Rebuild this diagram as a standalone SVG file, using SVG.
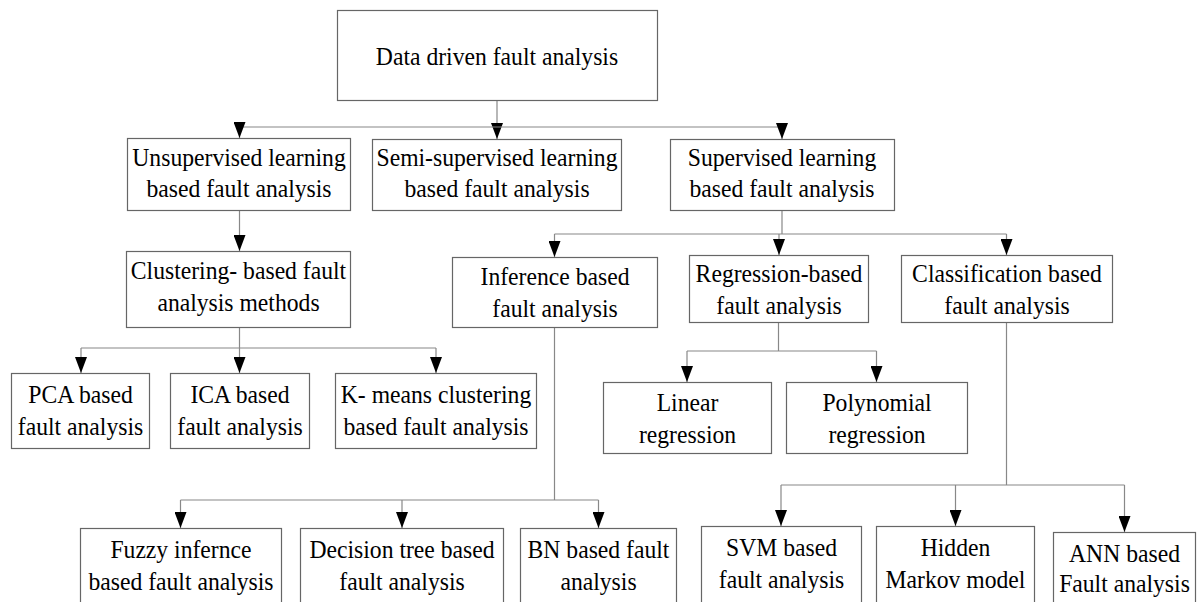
<svg xmlns="http://www.w3.org/2000/svg" width="1199" height="602" viewBox="0 0 1199 602">
<style>
.box{fill:#fff;stroke:#666;stroke-width:1.2}
.t{font-family:"Liberation Serif","Times New Roman",serif;font-size:26px;fill:#000;text-anchor:middle;transform-box:fill-box;transform-origin:center;transform:scaleX(0.91)}
.c{fill:none;stroke:#888;stroke-width:1.2}
</style>
<defs>
<marker id="ah" viewBox="0 0 16 12" refX="16" refY="6" markerWidth="16" markerHeight="12" markerUnits="userSpaceOnUse" orient="auto">
<path d="M0,0 L16,6 L0,12 z" fill="#000"/>
</marker>
</defs>
<rect width="1199" height="602" fill="#fff"/>
<g id="connectors">
<path class="c" d="M497,101 V139" marker-end="url(#ah)"/>
<path class="c" d="M239.5,127 H782"/>
<path class="c" d="M239.5,127 V138" marker-end="url(#ah)"/>
<path class="c" d="M782,127 V139" marker-end="url(#ah)"/>
<path class="c" d="M239.5,211 V251" marker-end="url(#ah)"/>
<path class="c" d="M239.5,327 V373" marker-end="url(#ah)"/>
<path class="c" d="M81,348 H436"/>
<path class="c" d="M81,348 V373" marker-end="url(#ah)"/>
<path class="c" d="M436,348 V373" marker-end="url(#ah)"/>
<path class="c" d="M782,210 V234"/>
<path class="c" d="M554.5,234 H1006.5"/>
<path class="c" d="M554.5,234 V257" marker-end="url(#ah)"/>
<path class="c" d="M779,234 V255" marker-end="url(#ah)"/>
<path class="c" d="M1006.5,234 V255" marker-end="url(#ah)"/>
<path class="c" d="M778.5,322 V351"/>
<path class="c" d="M687,351 H876.5"/>
<path class="c" d="M687,351 V382" marker-end="url(#ah)"/>
<path class="c" d="M876.5,351 V382" marker-end="url(#ah)"/>
<path class="c" d="M554.5,328 V500"/>
<path class="c" d="M180.5,500 H598.5"/>
<path class="c" d="M180.5,500 V528" marker-end="url(#ah)"/>
<path class="c" d="M402,500 V528" marker-end="url(#ah)"/>
<path class="c" d="M598.5,500 V528" marker-end="url(#ah)"/>
<path class="c" d="M1006.5,322 V485"/>
<path class="c" d="M781,485 H1124.5"/>
<path class="c" d="M781,485 V526" marker-end="url(#ah)"/>
<path class="c" d="M955.5,485 V526" marker-end="url(#ah)"/>
<path class="c" d="M1124.5,485 V532" marker-end="url(#ah)"/>
</g>
<g id="root"><rect class="box" x="337.5" y="10.5" width="320" height="90"/><text class="t" x="497" y="65">Data driven fault analysis</text></g>
<g id="unsupervised"><rect class="box" x="127.5" y="138.5" width="223" height="72"/><text class="t" x="239" y="166">Unsupervised learning</text><text class="t" x="239" y="197">based fault analysis</text></g>
<g id="semi"><rect class="box" x="372.5" y="139.5" width="249" height="71"/><text class="t" x="497" y="166">Semi-supervised learning</text><text class="t" x="497" y="197">based fault analysis</text></g>
<g id="supervised"><rect class="box" x="670.5" y="139.5" width="224" height="71"/><text class="t" x="782" y="166">Supervised learning</text><text class="t" x="782" y="197">based fault analysis</text></g>
<g id="clustering"><rect class="box" x="126.5" y="251.5" width="224" height="76"/><text class="t" x="238.5" y="279">Clustering- based fault</text><text class="t" x="238.5" y="311">analysis methods</text></g>
<g id="pca"><rect class="box" x="11.5" y="373.5" width="138" height="75"/><text class="t" x="80.5" y="403">PCA based</text><text class="t" x="80.5" y="435">fault analysis</text></g>
<g id="ica"><rect class="box" x="170.5" y="373.5" width="139" height="75"/><text class="t" x="240" y="403">ICA based</text><text class="t" x="240" y="435">fault analysis</text></g>
<g id="kmeans"><rect class="box" x="335.5" y="373.5" width="201" height="75"/><text class="t" x="436" y="403">K- means clustering</text><text class="t" x="436" y="435">based fault analysis</text></g>
<g id="inference"><rect class="box" x="452.5" y="257.5" width="205" height="70"/><text class="t" x="555" y="285">Inference based</text><text class="t" x="555" y="317">fault analysis</text></g>
<g id="regression"><rect class="box" x="689.5" y="255.5" width="179" height="67"/><text class="t" x="779" y="282">Regression-based</text><text class="t" x="779" y="314">fault analysis</text></g>
<g id="classification"><rect class="box" x="901.5" y="255.5" width="211" height="67"/><text class="t" x="1007" y="282">Classification based</text><text class="t" x="1007" y="314">fault analysis</text></g>
<g id="linear"><rect class="box" x="603.5" y="382.5" width="168" height="71"/><text class="t" x="687.5" y="411">Linear</text><text class="t" x="687.5" y="443">regression</text></g>
<g id="polynomial"><rect class="box" x="786.5" y="382.5" width="181" height="71"/><text class="t" x="877" y="411">Polynomial</text><text class="t" x="877" y="443">regression</text></g>
<g id="fuzzy"><rect class="box" x="80.5" y="528.5" width="201" height="80"/><text class="t" x="181" y="558">Fuzzy infernce</text><text class="t" x="181" y="590">based fault analysis</text></g>
<g id="decision"><rect class="box" x="300.5" y="528.5" width="203" height="80"/><text class="t" x="402" y="558">Decision tree based</text><text class="t" x="402" y="590">fault analysis</text></g>
<g id="bn"><rect class="box" x="520.5" y="528.5" width="156" height="80"/><text class="t" x="598.5" y="558">BN based fault</text><text class="t" x="598.5" y="590">analysis</text></g>
<g id="svm"><rect class="box" x="701.5" y="526.5" width="160" height="80"/><text class="t" x="781.5" y="556">SVM based</text><text class="t" x="781.5" y="588">fault analysis</text></g>
<g id="hmm"><rect class="box" x="876.5" y="526.5" width="158" height="80"/><text class="t" x="955.5" y="556">Hidden</text><text class="t" x="955.5" y="588">Markov model</text></g>
<g id="ann"><rect class="box" x="1053.5" y="532.5" width="142" height="80"/><text class="t" x="1124.5" y="562">ANN based</text><text class="t" x="1124.5" y="592">Fault analysis</text></g>
</svg>
